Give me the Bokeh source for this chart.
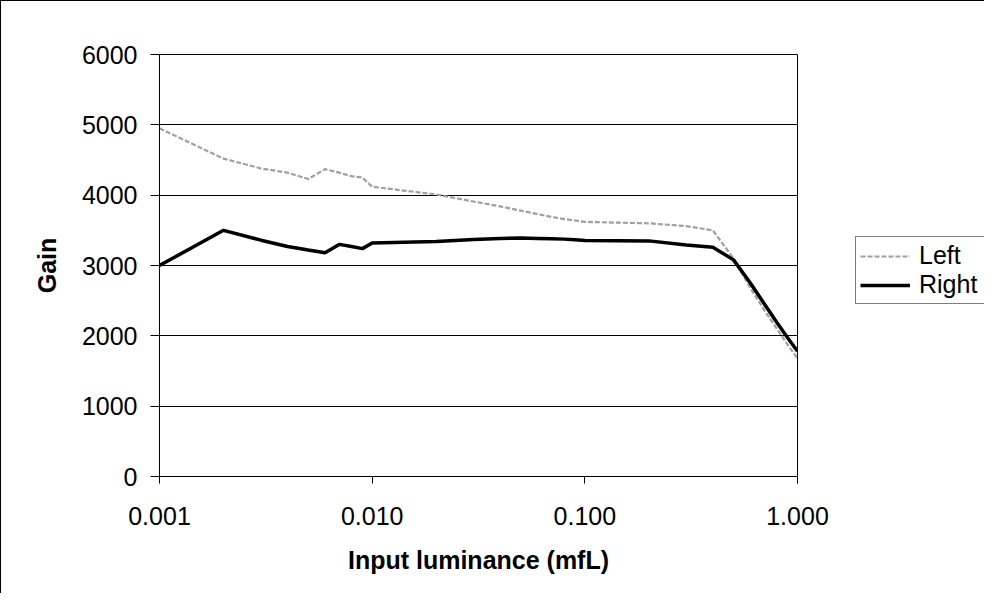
from bokeh.plotting import figure
from bokeh.layouts import row
from bokeh.models import FixedTicker, Legend, LegendItem, Range1d
from bokeh.embed import file_html
from bokeh.resources import INLINE

# ---- data ----
luminance = [0.001, 0.002, 0.003, 0.004, 0.005, 0.006, 0.007, 0.008, 0.009,
             0.01, 0.02, 0.03, 0.04, 0.05, 0.06, 0.07, 0.08, 0.09,
             0.1, 0.2, 0.3, 0.4, 0.5, 0.6, 0.7, 0.8, 0.9, 1.0]
gain_left = [4950, 4520, 4380, 4320, 4230, 4370, 4320, 4270, 4250,
             4120, 4010, 3910, 3840, 3780, 3730, 3690, 3660, 3640,
             3620, 3600, 3560, 3500, 3100, 2680, 2360, 2100, 1870, 1680]
gain_right = [3000, 3500, 3360, 3270, 3220, 3180, 3300, 3270, 3240,
              3320, 3340, 3370, 3385, 3390, 3385, 3380, 3375, 3365,
              3355, 3350, 3290, 3260, 3080, 2750, 2450, 2190, 1970, 1780]
series_names = ["Left", "Right"]
x_ticks = [0.001, 0.01, 0.1, 1.0]
x_tick_labels = ["0.001", "0.010", "0.100", "1.000"]
y_ticks = [0, 1000, 2000, 3000, 4000, 5000, 6000]

FONT = "Liberation Sans"
LEFT_STYLE = dict(line_color="#a0a0a0", line_width=2.2, line_dash="5 2")
RIGHT_STYLE = dict(line_color="black", line_width=3.5)

# ---- main chart ----
p = figure(width=831, height=593, x_axis_type="log",
           x_range=Range1d(0.001, 1.0), y_range=Range1d(0, 6000),
           output_backend="svg", toolbar_location=None,
           min_border_left=158, min_border_right=35,
           min_border_top=53, min_border_bottom=118,
           x_axis_label="Input luminance (mfL)", y_axis_label="Gain",
           styles={"border-top": "1px solid black", "border-left": "1px solid black"})

p.background_fill_color = "white"
p.border_fill_color = "white"
p.outline_line_color = "black"
p.outline_line_width = 1

p.xgrid.visible = False
p.ygrid.grid_line_color = "black"
p.ygrid.grid_line_width = 1
p.ygrid.ticker = FixedTicker(ticks=y_ticks)

for ax in (p.xaxis[0], p.yaxis[0]):
    ax.axis_line_color = "black"
    ax.major_tick_line_color = "black"
    ax.minor_tick_line_color = None
    ax.major_tick_in = 0
    ax.major_label_text_font = FONT
    ax.major_label_text_font_size = "25px"
    ax.major_label_text_color = "black"
    ax.axis_label_text_font = FONT
    ax.axis_label_text_font_size = "25px"
    ax.axis_label_text_font_style = "bold"
    ax.axis_label_text_color = "black"

p.xaxis.ticker = FixedTicker(ticks=x_ticks, minor_ticks=[])
p.xaxis.major_label_overrides = {t: l for t, l in zip(x_ticks, x_tick_labels)}
p.xaxis.major_tick_out = 7
p.xaxis.major_label_standoff = 23
p.xaxis.axis_label_standoff = 18

p.yaxis.ticker = FixedTicker(ticks=y_ticks, minor_ticks=[])
p.yaxis.major_tick_out = 9
p.yaxis.major_label_standoff = 13
p.yaxis.axis_label_standoff = 18

p.line(luminance, gain_left, **LEFT_STYLE)
p.line(luminance, gain_right, **RIGHT_STYLE)

# ---- legend panel (separate figure to the right of the chart) ----
lf = figure(width=153, height=593, x_range=Range1d(0, 1), y_range=Range1d(0, 1),
            output_backend="svg", toolbar_location=None,
            min_border_left=0, min_border_right=0, min_border_top=0, min_border_bottom=0,
            styles={"border-top": "1px solid black"})
lf.axis.visible = False
lf.grid.visible = False
lf.outline_line_color = None
lf.background_fill_color = "white"
lf.border_fill_color = "white"
# key renderers: same series, but outside this panel's 0..1 ranges, so only the legend keys show
k_left = lf.line(luminance, gain_left, **LEFT_STYLE)
k_right = lf.line(luminance, gain_right, **RIGHT_STYLE)

legend = Legend(items=[LegendItem(label=series_names[0], renderers=[k_left]),
                       LegendItem(label=series_names[1], renderers=[k_right])],
                location=(24, 172), orientation="vertical")
legend.label_text_font = FONT
legend.label_text_font_size = "25px"
legend.label_text_color = "black"
legend.glyph_width = 50
legend.glyph_height = 22
legend.label_height = 22
legend.label_width = 66
legend.label_standoff = 9
legend.padding = 4
legend.spacing = 0
legend.margin = 0
legend.border_line_color = "black"
legend.border_line_width = 1
legend.background_fill_color = "white"
legend.background_fill_alpha = 1.0
lf.add_layout(legend)

layout = row(p, lf, spacing=0)

open("out.html", "w").write(file_html(layout, INLINE))
